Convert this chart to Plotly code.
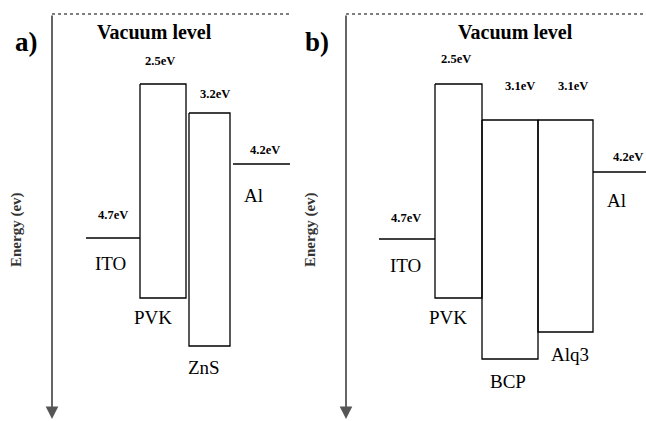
import plotly.graph_objects as go

# ---------------- data (schematic drawn levels, depth below vacuum) -------------
# panel a
A_LAYERS = ["PVK", "ZnS"]
A_LUMO_LABELS = ["2.5eV", "3.2eV"]
A_LUMO = [84, 113]
A_HOMO = [298, 346]
A_ELECTRODES = ["ITO", "Al"]
A_ELECTRODE_LABELS = ["4.7eV", "4.2eV"]
A_ELECTRODE_LEVEL = [238, 164]

# panel b
B_LAYERS = ["PVK", "BCP", "Alq3"]
B_LUMO_LABELS = ["2.5eV", "3.1eV", "3.1eV"]
B_LUMO = [84, 120, 120]
B_HOMO = [298, 359, 332]
B_ELECTRODES = ["ITO", "Al"]
B_ELECTRODE_LABELS = ["4.7eV", "4.2eV"]
B_ELECTRODE_LEVEL = [239, 172]

# ---------------- geometry / layout ----------------
W, H = 646, 421
VAC = 14
geom = {
    "a": dict(
        axis_x=52, vac_end=290, tag="a)", tag_xy=(26, 42), vac_xy=(154, 32),
        box_lr=[(140, 186), (189, 230)],
        ev_xy=[(160, -23), (215, -19)],
        name_xy=[(153, 19), (204, 21)],
        el_lr=[(86, 140), (233, 290)],
        el_ev_xy=[(113, -23), (265, -14)],
        el_name_xy=[(110, 25), (253, 31)],
        layers=A_LAYERS, lumo_lab=A_LUMO_LABELS, lumo=A_LUMO, homo=A_HOMO,
        els=A_ELECTRODES, el_lab=A_ELECTRODE_LABELS, el_lev=A_ELECTRODE_LEVEL,
    ),
    "b": dict(
        axis_x=346, vac_end=646, tag="b)", tag_xy=(317, 42), vac_xy=(515, 32),
        box_lr=[(435, 482), (482, 538), (538, 593)],
        ev_xy=[(456, -25), (520, -34), (573, -34)],
        name_xy=[(448, 19), (508, 22), (570, 22)],
        el_lr=[(379, 435), (593, 646)],
        el_ev_xy=[(406, -21), (628, -15)],
        el_name_xy=[(405, 26), (616, 28)],
        layers=B_LAYERS, lumo_lab=B_LUMO_LABELS, lumo=B_LUMO, homo=B_HOMO,
        els=B_ELECTRODES, el_lab=B_ELECTRODE_LABELS, el_lev=B_ELECTRODE_LEVEL,
    ),
}

SERIF = "Liberation Serif"

fig = go.Figure()
ann = []


def line(xs, ys, color="black", width=1.3, dash=None):
    fig.add_trace(go.Scatter(x=xs, y=ys, mode="lines", hoverinfo="skip",
                             showlegend=False,
                             line=dict(color=color, width=width, dash=dash)))


def text(x, y, s, size, bold=False, color="black", angle=0):
    ann.append(dict(x=x, y=y, xref="x", yref="y", text=f"<b>{s}</b>" if bold else s,
                    showarrow=False, textangle=angle,
                    font=dict(family=SERIF, size=size, color=color)))


for key, g in geom.items():
    ax = g["axis_x"]
    # vacuum dotted line
    line([ax, g["vac_end"]], [VAC, VAC], color="#555555", width=1.5, dash="dot")
    # energy axis arrow
    ann.append(dict(x=ax, y=419, ax=ax, ay=VAC, xref="x", yref="y", axref="x", ayref="y",
                    showarrow=True, arrowhead=2, arrowsize=1.4, arrowwidth=1.8,
                    arrowcolor="#555555", text=""))
    text(ax - 36, 230, "Energy (ev)", 15, bold=True, color="#333333", angle=-90)
    text(*g["tag_xy"], g["tag"], 27, bold=True)
    text(*g["vac_xy"], "Vacuum level", 20, bold=True)

    for i, name in enumerate(g["layers"]):
        l, r = g["box_lr"][i]
        t, b = g["lumo"][i], g["homo"][i]
        line([l, r, r, l, l], [t, t, b, b, t])
        ex, ey = g["ev_xy"][i]
        text(ex, t + ey, g["lumo_lab"][i], 12.5, bold=True)
        nx, ny = g["name_xy"][i]
        text(nx, b + ny, name, 19)

    for i, name in enumerate(g["els"]):
        l, r = g["el_lr"][i]
        lev = g["el_lev"][i]
        line([l, r], [lev, lev])
        ex, ey = g["el_ev_xy"][i]
        text(ex, lev + ey, g["el_lab"][i], 12.5, bold=True)
        nx, ny = g["el_name_xy"][i]
        text(nx, lev + ny, name, 19)

fig.update_layout(
    width=W, height=H, margin=dict(l=0, r=0, t=0, b=0),
    paper_bgcolor="white", plot_bgcolor="white",
    xaxis=dict(range=[0, W], visible=False, fixedrange=True),
    yaxis=dict(range=[H, 0], visible=False, fixedrange=True),
    annotations=ann, showlegend=False,
)
fig.write_html("out.html")
